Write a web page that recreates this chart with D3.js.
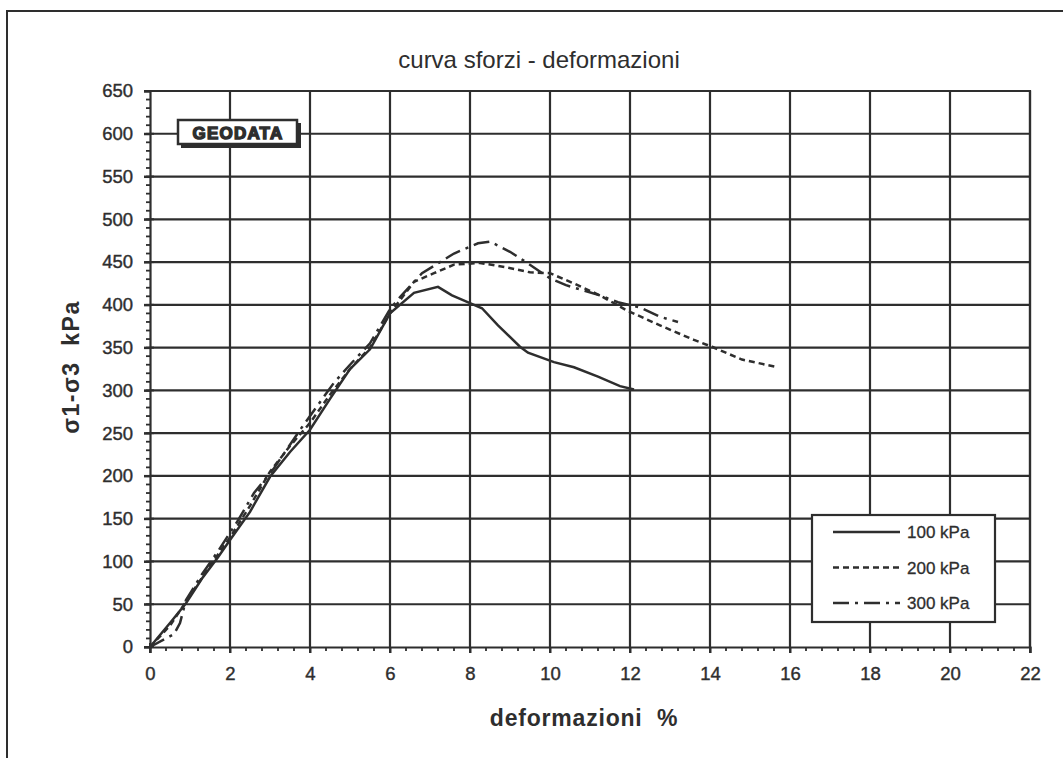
<!DOCTYPE html>
<html><head><meta charset="utf-8">
<script src="https://cdn.jsdelivr.net/npm/d3@7"></script>
<style>
body{margin:0;background:#fff;}
svg{display:block;font-family:"Liberation Sans",Arial,sans-serif;}
</style></head>
<body><svg id="c" width="1063" height="758"></svg>
<script>
// ---- data ----
const title = "curva sforzi - deformazioni";
const xLabel = "deformazioni  %";
const yLabel = "σ1-σ3  kPa";
const seriesNames = ["100 kPa", "200 kPa", "300 kPa"];
const xTicks = [0,2,4,6,8,10,12,14,16,18,20,22];
const yTicks = [0,50,100,150,200,250,300,350,400,450,500,550,600,650];

const x100 = [0,0.5,0.9,1.3,1.7,2.0,2.5,3.0,3.5,4.0,4.5,5.0,5.5,6.0,6.6,7.2,7.55,8.0,8.3,8.7,9.25,9.45,10.1,10.6,11.2,11.75,12.1];
const y100 = [0,28,51,80,105,125,158,199,228,254,290,325,348,390,414,421,411,402,396,376,351,344,333,327,316,305,301];

const x200 = [0,0.5,1.0,1.5,2.0,2.5,3.0,3.5,4.0,4.5,5.0,5.5,6.0,6.6,7.1,7.6,8.25,8.9,9.5,10.0,10.6,11.25,11.9,12.75,13.6,14.05,14.8,15.7];
const y200 = [0,25,60,95,128,165,205,235,262,295,325,350,390,427,437,447,449,444,438,437,425,411,394,376,359,351,336,327];

const x300 = [0,0.6,0.75,0.9,1.3,1.7,2.2,2.6,3.1,3.8,4.6,5.0,5.5,6.0,6.25,6.8,7.6,8.2,8.5,9.0,9.4,10.0,10.4,11.25,11.7,12.25,12.75,13.2];
const y300 = [0,15,28,55,85,112,148,180,209,257,309,330,355,395,409,437,460,472,474,462,450,431,423,411,403,397,386,380];

const ink = "#2e2e2e";
const svg = d3.select("#c");

// outer frame
svg.append("path").attr("d","M7,758 L7,11 L1063,11").attr("fill","none").attr("stroke",ink).attr("stroke-width",2);

const x = d3.scaleLinear().domain([0,22]).range([150,1030]);
const y = d3.scaleLinear().domain([0,650]).range([647,91]);

// grid
svg.append("g").selectAll("line").data(xTicks.slice(1)).join("line")
  .attr("x1",d=>x(d)).attr("x2",d=>x(d)).attr("y1",y(0)).attr("y2",y(650))
  .attr("stroke",ink).attr("stroke-width",2.2);
svg.append("g").selectAll("line").data(yTicks.slice(1)).join("line")
  .attr("x1",x(0)).attr("x2",x(22)).attr("y1",d=>y(d)).attr("y2",d=>y(d))
  .attr("stroke",ink).attr("stroke-width",2.2);

// minor ticks
const xMinor = d3.range(0,22.0001,0.4);
const yMinor = d3.range(0,650.001,10);
svg.append("g").selectAll("line").data(xMinor).join("line")
  .attr("x1",d=>x(d)).attr("x2",d=>x(d)).attr("y1",y(0)).attr("y2",y(0)+4)
  .attr("stroke",ink).attr("stroke-width",1.8);
svg.append("g").selectAll("line").data(yMinor).join("line")
  .attr("x1",x(0)-4).attr("x2",x(0)).attr("y1",d=>y(d)).attr("y2",d=>y(d))
  .attr("stroke",ink).attr("stroke-width",1.8);

const xa = svg.append("g").attr("transform",`translate(0,${y(0)})`)
  .call(d3.axisBottom(x).tickValues(xTicks).tickSize(6).tickPadding(14));
const ya = svg.append("g").attr("transform",`translate(${x(0)},0)`)
  .call(d3.axisLeft(y).tickValues(yTicks).tickSize(6).tickPadding(11));
[xa,ya].forEach(a=>{
  a.select(".domain").attr("stroke",ink).attr("stroke-width",2.2);
  a.selectAll(".tick line").attr("stroke",ink).attr("stroke-width",2);
  a.selectAll("text").attr("fill",ink).attr("stroke",ink).attr("stroke-width",0.4)
    .style("font-size","18.5px").style("font-family","'Liberation Sans',Arial,sans-serif");
});
// major ticks crossing axis
svg.append("g").selectAll("line").data(xTicks).join("line")
  .attr("x1",d=>x(d)).attr("x2",d=>x(d)).attr("y1",y(0)-4).attr("y2",y(0)+6)
  .attr("stroke",ink).attr("stroke-width",2);
svg.append("g").selectAll("line").data(yTicks).join("line")
  .attr("x1",x(0)-6).attr("x2",x(0)+4).attr("y1",d=>y(d)).attr("y2",d=>y(d))
  .attr("stroke",ink).attr("stroke-width",2);
// right/top plot border
svg.append("path").attr("d",`M${x(0)},${y(650)} L${x(22)},${y(650)} L${x(22)},${y(0)}`)
  .attr("fill","none").attr("stroke",ink).attr("stroke-width",2.2);

// series
const line = d3.line().x(d=>x(d[0])).y(d=>y(d[1])).curve(d3.curveLinear);
const series = [
  {name:seriesNames[0], pts:d3.zip(x100,y100), dash:null},
  {name:seriesNames[1], pts:d3.zip(x200,y200), dash:"6,4"},
  {name:seriesNames[2], pts:d3.zip(x300,y300), dash:"16,6,3,6"}
];
series.forEach(s=>{
  svg.append("path").datum(s.pts).attr("d",line).attr("fill","none")
    .attr("stroke",ink).attr("stroke-width",2.5)
    .attr("stroke-dasharray",s.dash);
});

// logo
svg.append("rect").attr("x",181).attr("y",123).attr("width",120).attr("height",25).attr("fill",ink);
svg.append("rect").attr("x",178).attr("y",120).attr("width",119).attr("height",24).attr("fill","#fff").attr("stroke",ink).attr("stroke-width",2.5);
svg.append("text").attr("x",238).attr("y",139).attr("text-anchor","middle")
  .attr("fill",ink).attr("stroke",ink).attr("stroke-width",1.4)
  .style("font-size","17px").style("font-weight","bold").style("letter-spacing","1.2px").text("GEODATA");

// legend
const lg = svg.append("g");
lg.append("rect").attr("x",812).attr("y",515).attr("width",183).attr("height",107)
  .attr("fill","#fff").attr("stroke",ink).attr("stroke-width",2.2);
series.forEach((s,i)=>{
  const yy = 532 + i*35.5;
  lg.append("line").attr("x1",833).attr("x2",900).attr("y1",yy).attr("y2",yy)
    .attr("stroke",ink).attr("stroke-width",2.5).attr("stroke-dasharray",s.dash);
  lg.append("text").attr("x",907).attr("y",yy+6).attr("fill",ink).attr("stroke",ink).attr("stroke-width",0.3)
    .style("font-size","17px").text(s.name);
});

// titles
svg.append("text").attr("x",539).attr("y",68).attr("text-anchor","middle").attr("fill",ink)
  .style("font-size","24px").text(title);
svg.append("text").attr("x",584).attr("y",726).attr("text-anchor","middle").attr("fill",ink)
  .style("white-space","pre")
  .style("font-size","23px").style("font-weight","bold").style("letter-spacing","0.8px").text(xLabel);
svg.append("text").attr("transform","translate(79,367) rotate(-90)").attr("text-anchor","middle").attr("fill",ink)
  .style("white-space","pre")
  .style("font-size","23px").style("font-weight","bold").style("letter-spacing","1.5px").text(yLabel);
</script></body></html>
